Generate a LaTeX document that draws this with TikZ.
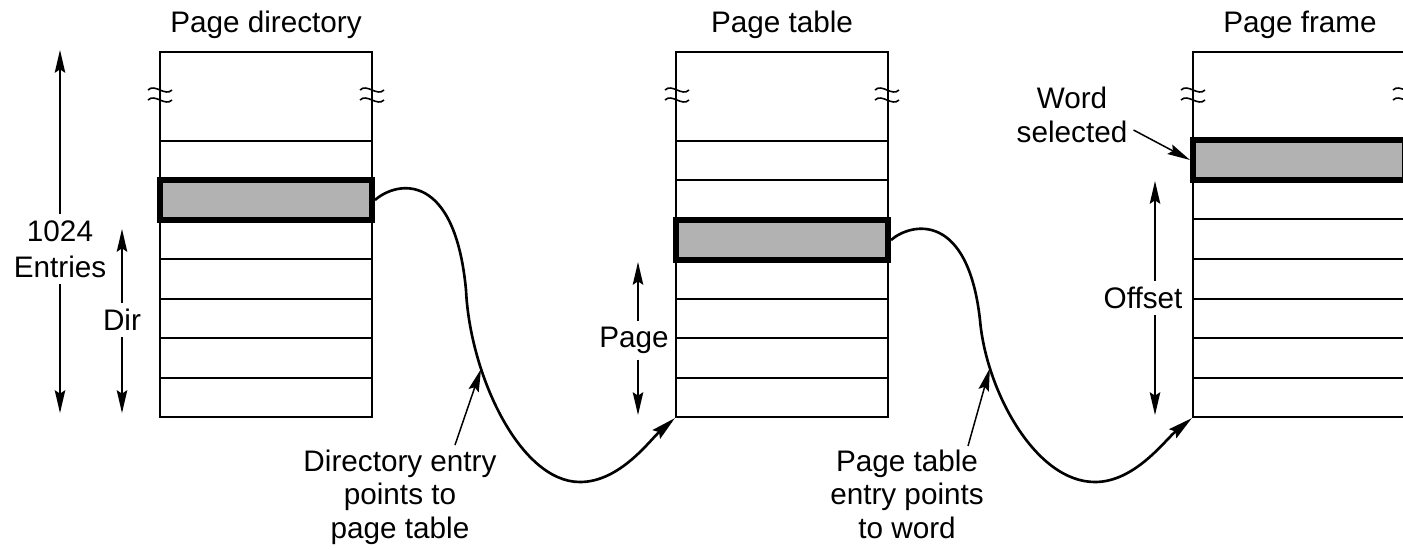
\documentclass[tikz,border=0pt]{standalone}
\usepackage{fontspec}
\setmainfont{Liberation Sans}
\usetikzlibrary{arrows.meta}

\begin{document}
\begin{tikzpicture}[x=0.02cm, y=-0.02cm,
	every node/.style={font=\fontsize{16.9}{19}\selectfont, align=center},
	tbl/.style={draw, line width=1.3pt, minimum width=4.24cm, minimum height=7.3cm, inner sep=0},
	row/.style={line width=1.3pt},
	sel/.style={draw, line width=3.4pt, fill=black!30, minimum width=4.24cm, minimum height=0.8cm, inner sep=0},
	dim/.style={-{Stealth[length=13pt, width=6pt, inset=2pt]}, line width=0.85pt},
	link/.style={-{Stealth[length=14pt, width=6.5pt, inset=2pt]}, line width=1.5pt},
	brk/.style={line width=0.9pt}]
	\useasboundingbox (0,0) rectangle (1403,549);
	\clip (0,0) rectangle (1403,549);

	\node[tbl] (pd) at (266,234.5) {};
	\node[tbl] (pt) at (782,234.5) {};
	\node[tbl] (pf) at (1299,234.5) {};

	\foreach \y in {141,180,220,259,299,338,378} \draw[row] (160,\y) -- (372,\y);
	\foreach \y in {141,180,220,260,299,338,378} \draw[row] (677,\y) -- (887,\y);
	\foreach \y in {140,180,219,259,299,338,378} \draw[row] (1193,\y) -- (1405,\y);

	\foreach \x in {160,372,677,887,1193,1405}
		\foreach \y in {90,100}
			\draw[brk] (\x-12,\y) .. controls (\x-5,\y-7) and (\x+5,\y+7) .. (\x+12,\y);

	\node[sel] (pdsel) at (266,200) {};
	\node[sel] (ptsel) at (782,240) {};
	\node[sel] (pfsel) at (1299,160) {};

	\node (pdtitle) at (266,25) {Page directory};
	\node (pttitle) at (782,25) {Page table};
	\node (pftitle) at (1300,25) {Page frame};

	\node[font=\fontsize{16.9}{20.5}\selectfont] (entries) at (60,249) {1024\\Entries};
	\coordinate (etop) at (60,50);
	\coordinate (ebot) at (60,413);
	\draw[dim] (entries.north -| etop) -- (etop);
	\draw[dim] (entries.south -| ebot) -- (ebot);

	\node (dir) at (122,320) {Dir};
	\coordinate (dtop) at (122,229);
	\coordinate (dbot) at (122,413);
	\draw[dim] (dir.north -| dtop) -- (dtop);
	\draw[dim] (dir.south -| dbot) -- (dbot);

	\node (page) at (634,340) {Page};
	\coordinate (ptop) at (638,262);
	\coordinate (pbot) at (638,415);
	\draw[dim] (page.north -| ptop) -- (ptop);
	\draw[dim] (page.south -| pbot) -- (pbot);

	\node (offset) at (1143,298) {Offset};
	\coordinate (otop) at (1155,181);
	\coordinate (obot) at (1155,415);
	\draw[dim] (offset.north -| otop) -- (otop);
	\draw[dim] (offset.south -| obot) -- (obot);

	\node (wsel) at (1072,115) {Word\\selected};
	\draw[dim] ([yshift=-0.3cm]wsel.east) -- (pfsel.west);

	\draw[link] (pdsel.east) .. controls (398,180) and (455,172) .. (466,290)
		.. controls (470,375) and (520,482) .. (580,482) coordinate[pos=0.3] (dirtip)
		.. controls (620,482) and (650,440) .. (pt.south west);
	\draw[link] (ptsel.east) .. controls (912,222) and (968,212) .. (980,320)
		.. controls (986,390) and (1035,482) .. (1095,482) coordinate[pos=0.22] (pttip)
		.. controls (1135,482) and (1165,440) .. (pf.south west);

	\node (dirlbl) at (400,497) {Directory entry\\points to\\page table};
	\node (ptlbl) at (907,494) {Page table\\entry points\\to word};
	\coordinate (dirtail) at (455,445);
	\coordinate (pttail) at (968,446);
	\draw[dim] (dirtail) -- (dirtip);
	\draw[dim] (pttail) -- (pttip);
\end{tikzpicture}
\end{document}
